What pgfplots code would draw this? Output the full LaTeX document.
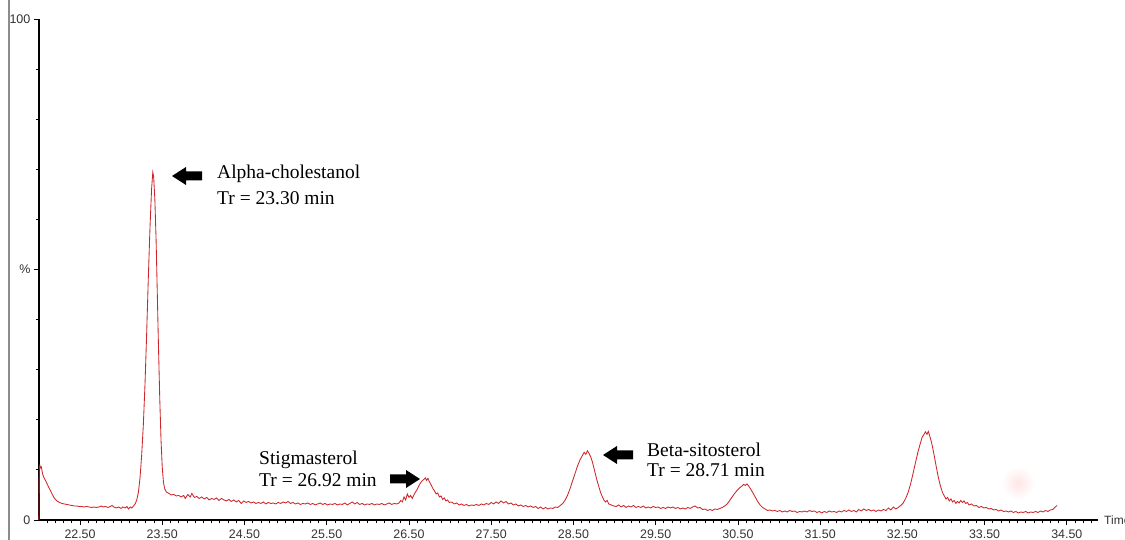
\documentclass[border=0pt]{standalone}
\usepackage{fontspec}
\setmainfont{Liberation Serif}
\newfontfamily\arialf{Liberation Sans}
\usepackage{pgfplots}
\pgfplotsset{compat=1.18}
\usepackage{pgfplotstable}
\definecolor{chromred}{RGB}{205,38,42}

\pgfplotstableread{
t v
22.000 0
22.004 10.2
22.012 10.9
22.020 10.4
22.030 10.6
22.045 9.2
22.060 8.5
22.080 7.9
22.100 7.2
22.120 6.5
22.140 5.9
22.160 5.2
22.180 4.6
22.200 4.1
22.220 3.8
22.250 3.5
22.280 3.3
22.310 3.2
22.340 3.1
22.370 3.0
22.400 2.9
22.430 2.8
22.460 2.8
22.490 2.7
22.520 2.7
22.550 2.6
22.580 2.7
22.610 2.6
22.640 2.5
22.670 2.6
22.700 2.5
22.730 2.6
22.760 2.8
22.780 2.6
22.810 2.7
22.840 2.5
22.870 2.7
22.890 2.9
22.910 2.6
22.940 2.4
22.970 2.6
23.000 2.3
23.020 2.6
23.050 2.4
23.070 2.7
23.090 2.2
23.110 2.6
23.130 2.4
23.150 2.8
23.170 3.2
23.190 4.0
23.210 5.5
23.230 8.5
23.250 13
23.270 19
23.290 27
23.310 37
23.330 48
23.350 58
23.370 66
23.385 69.4
23.395 68.6
23.410 64
23.425 56
23.440 45
23.455 34
23.470 24
23.485 16
23.500 10.5
23.515 7.5
23.530 6.2
23.550 5.6
23.580 5.3
23.610 5.0
23.640 5.1
23.670 4.8
23.700 4.9
23.730 4.6
23.760 4.9
23.780 4.3
23.810 5.1
23.840 4.6
23.860 5.3
23.890 4.5
23.920 4.7
23.950 4.3
23.980 4.6
24.010 4.2
24.040 4.5
24.070 4.0
24.100 4.3
24.130 4.1
24.160 4.4
24.190 3.9
24.220 4.3
24.250 4.0
24.280 3.8
24.310 4.1
24.340 3.7
24.370 4.0
24.400 3.6
24.430 3.9
24.460 3.3
24.490 3.8
24.520 3.5
24.550 3.7
24.580 3.4
24.610 3.6
24.640 3.3
24.670 3.5
24.700 3.3
24.730 3.6
24.760 3.2
24.790 3.5
24.820 3.3
24.850 3.4
24.880 3.2
24.910 3.5
24.940 3.3
24.970 3.6
25.000 3.4
25.030 3.7
25.060 3.3
25.090 3.5
25.120 3.2
25.150 3.4
25.180 3.1
25.210 3.3
25.240 3.2
25.270 3.4
25.300 3.1
25.330 3.3
25.360 3.0
25.390 3.2
25.420 3.4
25.450 3.1
25.480 3.3
25.510 3.0
25.540 3.2
25.570 3.1
25.600 3.3
25.630 3.0
25.660 3.2
25.690 3.1
25.720 3.4
25.750 3.0
25.780 3.3
25.810 3.6
25.840 3.2
25.870 3.5
25.900 3.1
25.930 3.3
25.960 3.0
25.990 3.2
26.020 3.1
26.050 3.3
26.080 3.0
26.110 3.2
26.140 3.1
26.170 3.3
26.200 3.0
26.230 3.2
26.260 3.4
26.290 3.1
26.320 3.3
26.350 3.2
26.380 3.4
26.400 3.9
26.420 3.6
26.440 4.6
26.460 4.0
26.480 5.2
26.500 4.5
26.520 4.9
26.540 4.3
26.560 5.0
26.580 5.6
26.600 6.1
26.620 6.8
26.640 7.4
26.660 7.8
26.680 8.1
26.700 8.4
26.715 7.9
26.730 8.3
26.750 7.6
26.770 7.0
26.790 6.3
26.810 5.8
26.830 5.2
26.850 5.4
26.870 4.6
26.890 4.8
26.910 4.1
26.930 4.4
26.950 3.8
26.970 4.0
26.990 3.5
27.020 3.6
27.050 3.2
27.080 3.4
27.110 3.0
27.140 3.2
27.170 2.9
27.200 3.1
27.230 2.8
27.260 3.0
27.290 2.9
27.320 3.1
27.350 2.9
27.380 3.2
27.410 3.0
27.440 3.3
27.470 3.1
27.500 3.5
27.530 3.2
27.560 3.6
27.590 3.3
27.620 3.8
27.650 3.4
27.680 3.7
27.710 3.2
27.740 3.4
27.770 3.0
27.800 3.2
27.830 2.8
27.860 3.0
27.890 2.7
27.920 2.9
27.950 2.6
27.980 2.8
28.010 2.5
28.040 2.7
28.070 2.3
28.100 2.6
28.130 2.2
28.160 2.5
28.190 2.2
28.220 2.4
28.250 2.3
28.280 2.6
28.310 2.5
28.340 2.9
28.370 3.3
28.400 4.0
28.430 5.0
28.460 6.3
28.490 7.8
28.520 9.3
28.550 10.8
28.580 12.0
28.610 12.9
28.630 13.5
28.650 13.1
28.670 13.8
28.690 13.3
28.710 12.6
28.730 11.6
28.750 10.3
28.770 9.0
28.790 7.7
28.810 6.6
28.830 5.5
28.850 4.7
28.870 4.0
28.890 3.6
28.910 3.9
28.930 3.2
28.960 3.0
28.990 2.8
29.020 2.7
29.050 3.0
29.080 2.6
29.110 2.9
29.140 2.5
29.170 2.8
29.200 2.6
29.230 2.9
29.260 2.5
29.290 2.7
29.320 2.5
29.350 2.8
29.380 2.4
29.410 2.6
29.440 2.4
29.470 2.7
29.500 2.5
29.530 2.6
29.560 2.3
29.590 2.5
29.620 2.3
29.650 2.6
29.680 2.4
29.710 2.6
29.740 2.3
29.770 2.5
29.800 2.2
29.830 2.4
29.860 2.2
29.890 2.5
29.920 2.3
29.950 2.6
29.980 2.8
30.010 2.4
30.040 2.5
30.070 2.1
30.100 2.2
30.130 1.9
30.160 2.1
30.190 1.9
30.220 2.2
30.250 2.1
30.280 2.3
30.310 2.5
30.340 2.8
30.370 3.2
30.400 3.9
30.430 4.6
30.460 5.3
30.490 5.9
30.520 6.4
30.550 6.8
30.570 7.1
30.590 6.9
30.610 7.2
30.630 6.8
30.650 6.3
30.680 5.5
30.710 4.6
30.740 3.7
30.770 3.0
30.800 2.5
30.830 2.2
30.860 1.9
30.890 2.0
30.920 1.8
30.950 1.9
30.980 1.7
31.010 1.9
31.040 1.6
31.070 1.8
31.100 1.6
31.130 1.9
31.160 1.7
31.190 1.8
31.220 1.5
31.250 1.7
31.280 1.6
31.310 1.8
31.340 1.6
31.370 1.9
31.400 1.7
31.430 1.8
31.460 1.5
31.490 1.7
31.520 1.4
31.550 1.7
31.580 1.5
31.610 1.8
31.640 1.6
31.670 1.7
31.700 1.5
31.730 1.8
31.760 1.6
31.790 1.9
31.820 1.7
31.850 2.0
31.880 1.7
31.910 1.9
31.940 1.6
31.970 2.1
32.000 1.8
32.030 2.2
32.060 1.9
32.090 2.1
32.120 1.8
32.150 2.0
32.180 1.7
32.210 2.0
32.240 1.8
32.270 2.1
32.300 1.9
32.330 2.4
32.360 2.0
32.390 2.6
32.420 2.2
32.450 2.5
32.480 2.9
32.510 3.4
32.540 4.3
32.570 5.5
32.600 7.2
32.630 9.3
32.660 11.5
32.690 13.6
32.720 15.4
32.740 16.5
32.760 17.0
32.780 17.6
32.800 17.1
32.815 17.7
32.830 16.9
32.850 15.8
32.870 14.3
32.890 12.6
32.910 10.8
32.930 9.1
32.950 7.6
32.970 6.4
32.990 5.4
33.010 4.8
33.030 4.2
33.050 4.5
33.070 3.8
33.090 4.2
33.110 3.6
33.130 3.9
33.150 3.3
33.170 3.7
33.190 3.4
33.210 3.9
33.230 3.5
33.250 3.8
33.270 3.3
33.290 3.5
33.310 3.0
33.340 3.2
33.370 2.8
33.400 2.9
33.430 2.5
33.460 2.7
33.490 2.4
33.520 2.5
33.550 2.2
33.580 2.3
33.610 2.0
33.640 2.1
33.670 1.8
33.700 2.0
33.730 1.7
33.760 1.8
33.790 1.6
33.820 1.8
33.850 1.5
33.880 1.7
33.910 1.4
33.940 1.6
33.970 1.5
34.000 1.7
34.030 1.4
34.060 1.6
34.090 1.5
34.120 1.7
34.150 1.5
34.180 1.8
34.210 1.6
34.240 1.9
34.270 1.7
34.300 2.0
34.330 2.1
34.360 2.6
34.380 2.9
}\chrom

\newcommand\larrow[2]{\fill[black] (#1,#2) -- ++(14,9) -- ++(0,-4.5) -- ++(16,0) -- ++(0,-9) -- ++(-16,0) -- ++(0,-4.5) -- cycle;}
\newcommand\rarrow[2]{\fill[black] (#1,#2) -- ++(-14,9) -- ++(0,-4.5) -- ++(-16,0) -- ++(0,-9) -- ++(16,0) -- ++(0,-4.5) -- cycle;}

\begin{document}
\begin{tikzpicture}[x=1pt,y=1pt]
\useasboundingbox (0,0) rectangle (1125,540);
\draw[black!45, line width=2pt] (9,0) -- (9,540);
\shade[inner color=red!10, outer color=white] (1018,57) circle (17);
\begin{axis}[
  at={(38.9pt,20pt)}, anchor=south west, scale only axis,
  width=1059.2pt, height=501pt,
  xmin=22.0, xmax=34.88, ymin=0, ymax=100,
  axis lines=left,
  axis line style={-, line width=1.2pt, black},
  every inner x axis line/.append style={-},
  every inner y axis line/.append style={-},
  every outer x axis line/.append style={-},
  every outer y axis line/.append style={-},
  tick align=outside,
  xtick={22.5,23.5,24.5,25.5,26.5,27.5,28.5,29.5,30.5,31.5,32.5,33.5,34.5},
  xticklabels={22.50,23.50,24.50,25.50,26.50,27.50,28.50,29.50,30.50,31.50,32.50,33.50,34.50},
  minor xtick={22.1,22.2,22.3,22.4,22.6,22.7,22.8,22.9,23.0,23.1,23.2,23.3,23.4,23.6,23.7,23.8,23.9,24.0,24.1,24.2,24.3,24.4,24.6,24.7,24.8,24.9,25.0,25.1,25.2,25.3,25.4,25.6,25.7,25.8,25.9,26.0,26.1,26.2,26.3,26.4,26.6,26.7,26.8,26.9,27.0,27.1,27.2,27.3,27.4,27.6,27.7,27.8,27.9,28.0,28.1,28.2,28.3,28.4,28.6,28.7,28.8,28.9,29.0,29.1,29.2,29.3,29.4,29.6,29.7,29.8,29.9,30.0,30.1,30.2,30.3,30.4,30.6,30.7,30.8,30.9,31.0,31.1,31.2,31.3,31.4,31.6,31.7,31.8,31.9,32.0,32.1,32.2,32.3,32.4,32.6,32.7,32.8,32.9,33.0,33.1,33.2,33.3,33.4,33.6,33.7,33.8,33.9,34.0,34.1,34.2,34.3,34.4,34.6,34.7,34.8},
  ytick={0,50,100},
  yticklabels={0,\%,100},
  minor ytick={10,20,30,40,60,70,80,90},
  major tick length=5pt, minor tick length=3pt,
  every tick/.style={black, line width=0.8pt},
  xticklabel style={font=\arialf\fontsize{12.4}{14}\selectfont, text=black!80, yshift=-1pt},
  yticklabel style={font=\arialf\fontsize{12.5}{14}\selectfont, text=black!80},
  clip=false,
]
\addplot[color=chromred, line width=0.85pt, mark=none] table[x=t, y=v] {\chrom};
\end{axis}
\node[anchor=west, font=\arialf\fontsize{12}{14}\selectfont, text=black!80, inner sep=0] at (1104,20) {Time};
\begin{scope}[font=\fontsize{19.5}{23}\selectfont]
\larrow{172}{364}
\node[anchor=base west, inner sep=0] at (217,361) {Alpha-cholestanol};
\node[anchor=base west, inner sep=0] at (217,335) {Tr = 23.30 min};
\rarrow{420}{61}
\node[anchor=base west, inner sep=0] at (259,75) {Stigmasterol};
\node[anchor=base west, inner sep=0] at (259,53) {Tr = 26.92 min};
\larrow{603}{85}
\node[anchor=base west, inner sep=0] at (647,83) {Beta-sitosterol};
\node[anchor=base west, inner sep=0] at (647,63) {Tr = 28.71 min};
\end{scope}
\end{tikzpicture}
\end{document}
